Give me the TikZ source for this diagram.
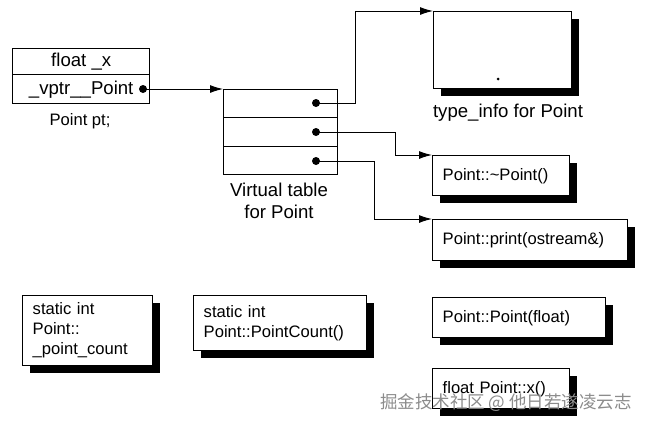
\documentclass[tikz,border=0pt]{standalone}
\usepackage{fontspec}
\setmainfont{Liberation Sans}
\newfontfamily\cjk{Noto Sans CJK SC}
\usetikzlibrary{shadows,arrows.meta}
\begin{document}
\begin{tikzpicture}[x=1pt,y=-1pt,
  font=\fontsize{16.6}{20}\selectfont,
  big/.style={font=\fontsize{18.6}{22}\selectfont},
  box/.style={draw,line width=1.4pt,fill=white,anchor=north west,inner sep=0pt},
  sbox/.style={box,general shadow={fill=black,shadow xshift=7pt,shadow yshift=-7pt},
    align=left,inner xsep=10pt},
  dot/.style={circle,fill=black,inner sep=0pt,minimum size=8pt},
  lbl/.style={align=center,inner sep=0pt},
  arr/.style={line width=1pt,-{Latex[length=13pt,width=8pt]}}
]
\useasboundingbox (0,0) rectangle (647,426);

% Point pt object
\node[box,big,minimum width=137pt,minimum height=26pt] (ptA) at (12,48) {float \_x};
\node[box,big,minimum width=137pt,minimum height=29pt] (ptB) at (12,74) {\_vptr\_\_Point\hspace{12pt}};
\node[lbl] (ptlbl) at (80,121) {Point pt;};
\node[dot] (d0) at (143,89) {};

% virtual table
\node[box,minimum width=114pt,minimum height=28pt] (v1) at (223,89) {};
\node[box,minimum width=114pt,minimum height=29pt] (v2) at (223,117) {};
\node[box,minimum width=114pt,minimum height=28pt] (v3) at (223,146) {};
\node[dot] (d1) at (316,103) {};
\node[dot] (d2) at (316,132) {};
\node[dot] (d3) at (316,161) {};
\node[lbl,big] (vtlbl) at (279,201) {Virtual table\\[0pt]for Point};

% type_info
\node[sbox,minimum width=138pt,minimum height=77pt] (ti) at (433,11) {};
\node[circle,fill=black,inner sep=0pt,minimum size=3pt] (tidot) at (498,79) {};
\node[lbl,big] (tilbl) at (508,113) {type\_info for Point};

% function boxes
\node[sbox,text width=117pt,minimum height=40pt] (dtor) at (432,155) {Point::\textasciitilde Point()};
\node[sbox,text width=175pt,minimum height=41pt] (prt) at (432,219) {Point::print(ostream\&)};
\node[sbox,text width=153pt,minimum height=40pt] (ctor) at (432,297) {Point::Point(float)};
\node[sbox,text width=117pt,minimum height=40pt] (xfn) at (432,368) {float Point::x()};
\node[sbox,text width=110pt,minimum height=70pt] (cnt) at (22,295) {static int\\Point::\\\_point\_count};
\node[sbox,text width=153pt,minimum height=55pt] (pc) at (193,295) {static int\\Point::PointCount()};

% connectors
\coordinate (c1) at (355,0);
\coordinate (c2) at (395,0);
\coordinate (c3) at (374,0);
\draw[arr] (d0.center) -- (v1.north west);
\draw[arr] (d1.center) -- (d1.center -| c1) |- (ti.north west);
\draw[arr] (d2.center) -- (d2.center -| c2) |- (dtor.north west);
\draw[arr] (d3.center) -- (d3.center -| c3) |- (prt.north west);

% watermark
\node[text=black!45,inner sep=0pt,font=\fontsize{17.5}{20}\selectfont] (wm) at (506,403) {\cjk 掘金技术社区 @ 他日若遂凌云志};
\end{tikzpicture}
\end{document}
